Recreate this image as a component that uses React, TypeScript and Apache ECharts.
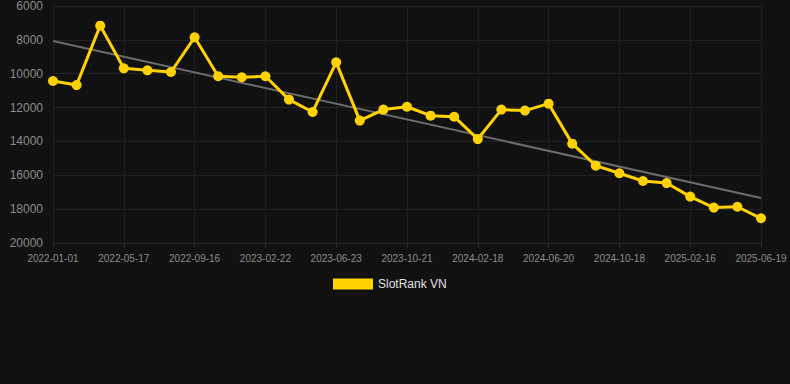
import React, { useEffect, useRef } from "react";
import * as echarts from "echarts";

const categories = [
  "2022-01-01", "2022-02-15", "2022-04-01", "2022-05-17", "2022-06-27", "2022-08-06",
  "2022-09-16", "2022-11-08", "2022-12-31", "2023-02-22", "2023-04-03", "2023-05-13",
  "2023-06-23", "2023-08-03", "2023-09-12", "2023-10-21", "2023-12-01", "2024-01-09",
  "2024-02-18", "2024-03-31", "2024-05-10", "2024-06-20", "2024-08-01", "2024-09-09",
  "2024-10-18", "2024-11-29", "2025-01-07", "2025-02-16", "2025-03-29", "2025-05-09",
  "2025-06-19",
];

const rankValues = [
  10430, 10670, 7160, 9680, 9800, 9900, 7850, 10150, 10210, 10150, 11530, 12260,
  9330, 12770, 12120, 11950, 12480, 12540, 13860, 12120, 12180, 11770, 14130, 15430,
  15880, 16340, 16460, 17260, 17910, 17860, 18540,
];

const trendStart = 8070;
const trendEnd = 17340;

const yTicks = { min: 6000, max: 20000, interval: 2000 };

export default function App() {
  const ref = useRef<HTMLDivElement>(null);
  useEffect(() => {
    document.body.style.margin = "0";
    const chart = echarts.init(ref.current!, null, { renderer: "svg" });
    const trendData = categories.map((_, i) =>
      i === 0 ? trendStart : i === categories.length - 1 ? trendEnd : null
    );
    chart.setOption({
      animation: false,
      backgroundColor: "#111111",
      grid: { left: 53, right: 29, top: 6, bottom: 141, containLabel: false },
      legend: {
        top: 278,
        left: 333,
        padding: 0,
        itemWidth: 40,
        itemHeight: 11,
        data: [{ name: "SlotRank VN", icon: "rect" }],
        textStyle: { color: "#e0e0e0", fontSize: 12, fontFamily: "Arial, Liberation Sans, sans-serif" },
      },
      xAxis: {
        type: "category",
        data: categories,
        boundaryGap: false,
        axisLine: { show: true, lineStyle: { color: "#2a2a2a" } },
        axisTick: { show: true, interval: 2, alignWithLabel: true, lineStyle: { color: "#2a2a2a" } },
        axisLabel: {
          interval: 2,
          color: "#8c8c8c",
          fontSize: 10,
          margin: 10,
          fontFamily: "Arial, Liberation Sans, sans-serif",
        },
        splitLine: { show: true, interval: 2, lineStyle: { color: "#1f1f1f" } },
      },
      yAxis: {
        type: "value",
        inverse: true,
        min: yTicks.min,
        max: yTicks.max,
        interval: yTicks.interval,
        axisLine: { show: false },
        axisTick: { show: false },
        axisLabel: {
          color: "#8c8c8c",
          fontSize: 12,
          margin: 10,
          formatter: (v: number) => String(v),
          fontFamily: "Arial, Liberation Sans, sans-serif",
        },
        splitLine: { show: true, lineStyle: { color: "#222222" } },
      },
      series: [
        {
          name: "SlotRank VN",
          type: "line",
          data: rankValues,
          color: "#FFD200",
          lineStyle: { width: 3, color: "#FFD200" },
          itemStyle: { color: "#FFD200" },
          symbol: "circle",
          symbolSize: 10,
          z: 3,
        },
        {
          name: "trend",
          type: "line",
          data: trendData,
          connectNulls: true,
          symbol: "none",
          lineStyle: { width: 2, color: "#6b6b6b" },
          itemStyle: { color: "#6b6b6b" },
          z: 2,
        },
      ],
    });
    return () => chart.dispose();
  }, []);
  return <div ref={ref} style={{ width: 790, height: 384 }} />;
}
